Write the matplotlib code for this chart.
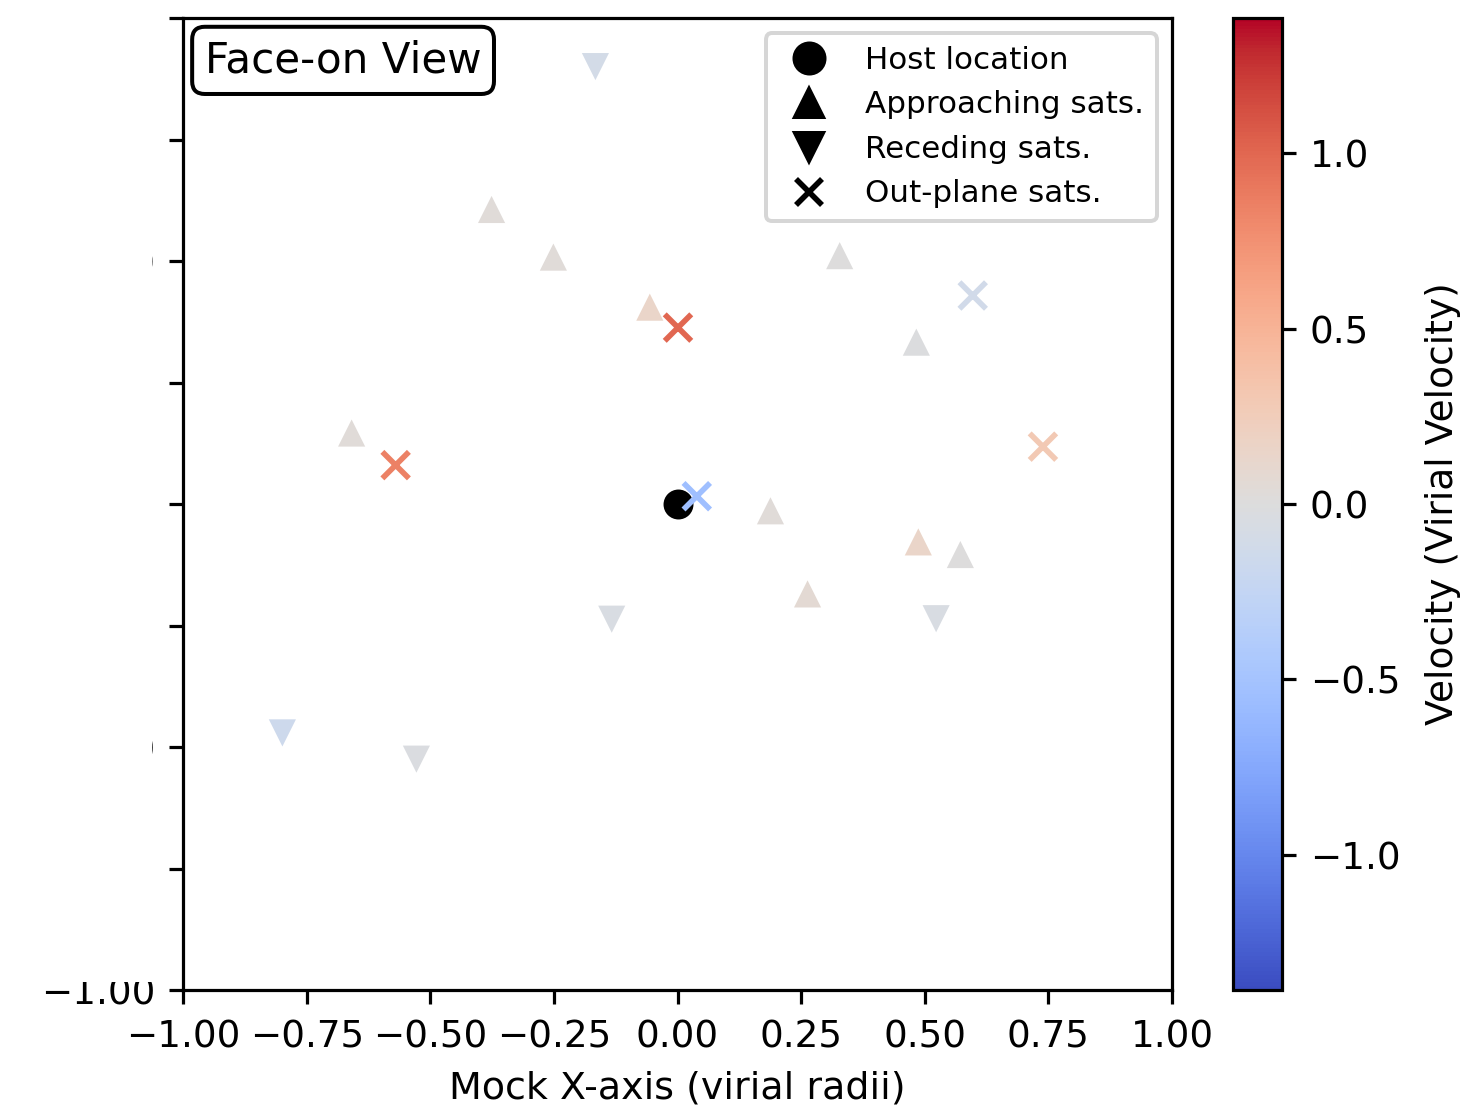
import matplotlib
matplotlib.use("Agg")
import matplotlib.pyplot as plt
from matplotlib.colors import Normalize
from matplotlib.lines import Line2D
from matplotlib.patches import Rectangle
import matplotlib.cm as cm

# Host galaxy position
host_x = [0.0]
host_y = [0.0]

# Satellites moving toward the observer
approach_x = [-0.376, -0.251, -0.056, 0.328, 0.483, -0.659, 0.188, 0.487, 0.572, 0.263]
approach_y = [0.606, 0.508, 0.405, 0.511, 0.333, 0.146, -0.014, -0.078, -0.104, -0.185]
approach_v = [0.04, 0.04, 0.15, 0.0, -0.02, 0.04, 0.04, 0.15, 0.0, 0.07]

# Satellites moving away from the observer
recede_x = [-0.166, -0.133, 0.523, -0.799, -0.528]
recede_y = [0.900, -0.237, -0.236, -0.471, -0.525]
recede_v = [-0.1, -0.05, -0.05, -0.16, -0.03]

# Satellites outside the plane
out_x = [0.001, 0.597, 0.739, -0.570, 0.039]
out_y = [0.363, 0.429, 0.118, 0.080, 0.016]
out_v = [1.0, -0.12, 0.3, 0.85, -0.55]

vel_limit = 1.386
axis_ticks = [-1.0, -0.75, -0.5, -0.25, 0.0, 0.25, 0.5, 0.75, 1.0]
cbar_ticks = [-1.0, -0.5, 0.0, 0.5, 1.0]

W, H, DPI = 1460, 1105, 288
plt.rcParams["font.size"] = 9.3

fig = plt.figure(figsize=(W / DPI, H / DPI), dpi=DPI)
ax = fig.add_axes([183 / W, 1 - 990 / H, (1172 - 183) / W, (990 - 18) / H])
cax = fig.add_axes([1233 / W, 1 - 990 / H, (1282 - 1233) / W, (990 - 18) / H])

norm = Normalize(vmin=-vel_limit, vmax=vel_limit)
cmap = plt.get_cmap("coolwarm")

ax.scatter(approach_x, approach_y, c=approach_v, cmap=cmap, norm=norm,
           marker="^", s=46, linewidths=0)
ax.scatter(recede_x, recede_y, c=recede_v, cmap=cmap, norm=norm,
           marker="v", s=46, linewidths=0)
ax.scatter(host_x, host_y, c="k", marker="o", s=56, linewidths=0)
ax.scatter(out_x, out_y, c=out_v, cmap=cmap, norm=norm,
           marker="x", s=44, linewidths=1.4)

ax.set_xlim(-1, 1)
ax.set_ylim(-1, 1)
ax.set_xticks(axis_ticks)
ax.set_yticks(axis_ticks)
ax.set_xlabel("Mock X-axis (virial radii)", fontsize=9.5)

ax.text(0.022, 0.978, "Face-on View", transform=ax.transAxes, fontsize=10.5,
        ha="left", va="top",
        bbox=dict(boxstyle="round,pad=0.3", facecolor="white", edgecolor="black"))

handles = [
    Line2D([], [], linestyle="none", marker="o", color="k", markersize=7.5),
    Line2D([], [], linestyle="none", marker="^", color="k", markersize=6.8),
    Line2D([], [], linestyle="none", marker="v", color="k", markersize=6.8),
    Line2D([], [], linestyle="none", marker="x", color="k", markersize=6.6,
           markeredgewidth=1.4),
]
labels = ["Host location", "Approaching sats.", "Receding sats.", "Out-plane sats."]
ax.legend(handles, labels, loc="upper right", fontsize="small")

sm = cm.ScalarMappable(norm=norm, cmap=cmap)
cb = fig.colorbar(sm, cax=cax, ticks=cbar_ticks)
cb.set_label("Velocity (Virial Velocity)", fontsize=9.4, labelpad=6)

# Blank panel covering the left margin
fig.patches.append(Rectangle((0, 1 - 982 / H), 152 / W, 982 / H,
                             transform=fig.transFigure, facecolor="white",
                             edgecolor="none", zorder=10))

fig.savefig("out.png", dpi=DPI)
